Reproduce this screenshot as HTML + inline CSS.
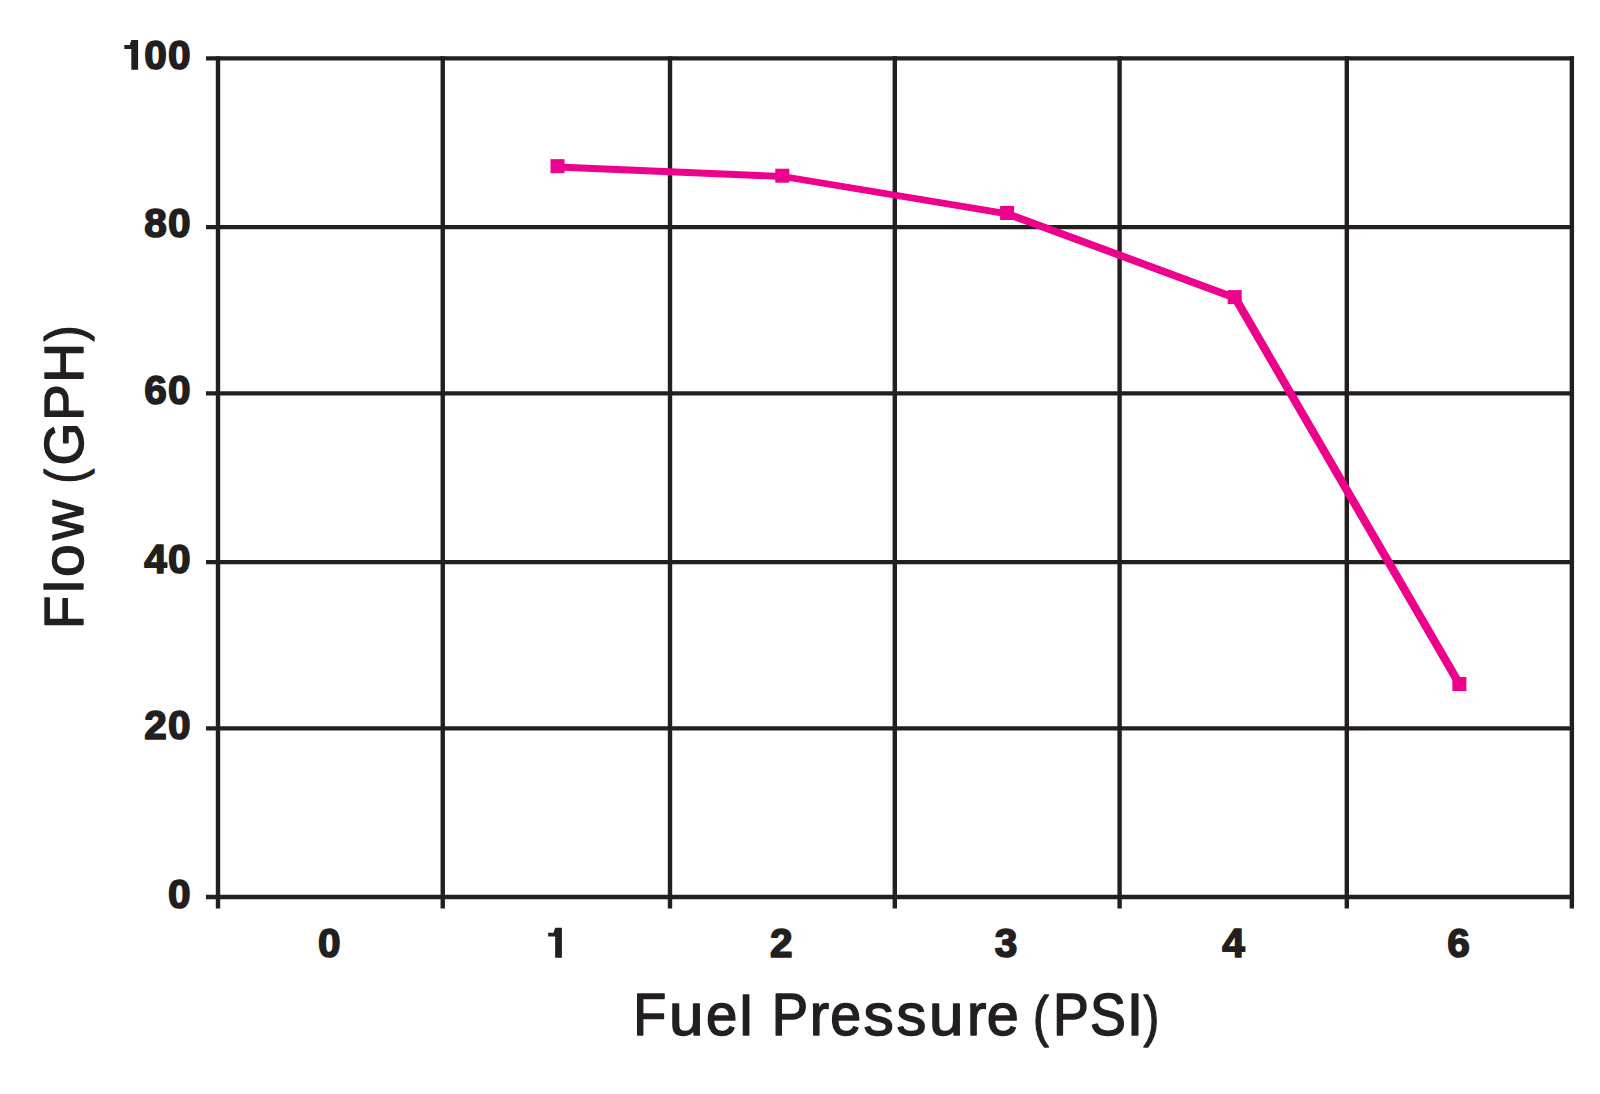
<!DOCTYPE html>
<html><head><meta charset="utf-8">
<style>
html,body{margin:0;padding:0;background:#fff;}
body{width:1600px;height:1094px;overflow:hidden;}
svg{display:block;}
svg text{font-family:"Liberation Sans",sans-serif;fill:#231f20;}
.d{font-weight:bold;font-size:40.6px;stroke:#231f20;stroke-width:1.6px;stroke-linejoin:round;letter-spacing:1.35px;}
.t{font-size:58.6px;stroke:#231f20;stroke-width:1.5px;stroke-linejoin:round;}
.yt{font-size:55.5px;stroke:#231f20;stroke-width:1.4px;stroke-linejoin:round;}
</style></head>
<body>
<svg width="1600" height="1094" viewBox="0 0 1600 1094">
<g stroke="#231f20" stroke-width="4.4" fill="none">
<line x1="206" y1="58.4" x2="1573.9" y2="58.4"/>
<line x1="206" y1="227.15" x2="1573.9" y2="227.15"/>
<line x1="206" y1="393.4" x2="1573.9" y2="393.4"/>
<line x1="206" y1="562.15" x2="1573.9" y2="562.15"/>
<line x1="206" y1="728.4" x2="1573.9" y2="728.4"/>
<line x1="206" y1="897.0" x2="1573.9" y2="897.0"/>
<line x1="218" y1="56.2" x2="218" y2="908.6"/>
<line x1="442.75" y1="56.2" x2="442.75" y2="908.6"/>
<line x1="670.0" y1="56.2" x2="670.0" y2="908.6"/>
<line x1="894.8" y1="56.2" x2="894.8" y2="908.6"/>
<line x1="1119.6" y1="56.2" x2="1119.6" y2="908.6"/>
<line x1="1346.8" y1="56.2" x2="1346.8" y2="908.6"/>
<line x1="1571.85" y1="56.2" x2="1571.85" y2="908.6"/>
</g>
<text class="d" x="192" y="69.3" text-anchor="end">00</text>
<text class="d" x="192" y="237.3" text-anchor="end">80</text>
<text class="d" x="192" y="403.8" text-anchor="end">60</text>
<text class="d" x="192" y="572.7" text-anchor="end">40</text>
<text class="d" x="192" y="738.6" text-anchor="end">20</text>
<text class="d" x="192" y="907.6" text-anchor="end">0</text>
<text class="d" x="329.9" y="956.9" text-anchor="middle">0</text>
<text class="d" x="782" y="956.9" text-anchor="middle">2</text>
<text class="d" x="1006.7" y="956.9" text-anchor="middle">3</text>
<text class="d" x="1234.1" y="956.9" text-anchor="middle">4</text>
<text class="d" x="1459.1" y="956.9" text-anchor="middle">6</text>
<path fill="#231f20" d="M131.34,40.10L138.10,40.10L138.10,69.70L131.34,69.70L131.34,49.00L124.34,49.00L124.34,45.10L129.74,45.10Z"/>
<path fill="#231f20" d="M555.15,927.65L561.91,927.65L561.91,957.80L555.15,957.80L555.15,936.55L548.15,936.55L548.15,932.65L553.55,932.65Z"/>
<text class="t" transform="translate(650.90,1034.70) scale(0.922,1.0)" x="-19.13" y="0">F</text>
<text class="t" transform="translate(686.10,1034.70) scale(1.057,1.0)" x="-16.25" y="0">u</text>
<text class="t" transform="translate(721.65,1034.70) scale(0.962,1.0)" x="-16.24" y="0">e</text>
<text class="t" transform="translate(746.15,1034.70) scale(1.007,0.95)" x="-6.52" y="0">l</text>
<text class="t" transform="translate(790.60,1034.70) scale(0.930,1.0)" x="-20.40" y="0">P</text>
<text class="t" transform="translate(820.90,1034.70) scale(0.991,1.0)" x="-11.22" y="0">r</text>
<text class="t" transform="translate(845.65,1034.70) scale(0.948,1.0)" x="-16.24" y="0">e</text>
<text class="t" transform="translate(878.45,1034.70) scale(1.031,1.0)" x="-14.41" y="0">s</text>
<text class="t" transform="translate(911.25,1034.70) scale(1.017,1.0)" x="-14.41" y="0">s</text>
<text class="t" transform="translate(946.15,1034.70) scale(1.057,1.0)" x="-16.25" y="0">u</text>
<text class="t" transform="translate(978.00,1034.70) scale(0.991,1.0)" x="-11.22" y="0">r</text>
<text class="t" transform="translate(1002.75,1034.70) scale(0.983,1.0)" x="-16.24" y="0">e</text>
<text class="t" transform="translate(1042.30,1034.70) scale(0.810,0.94)" x="-11.40" y="0">(</text>
<text class="t" transform="translate(1071.60,1034.70) scale(0.918,1.0)" x="-20.40" y="0">P</text>
<text class="t" transform="translate(1107.85,1034.70) scale(0.917,1.0)" x="-19.53" y="0">S</text>
<text class="t" transform="translate(1134.90,1034.70) scale(1.012,1.0)" x="-8.14" y="0">I</text>
<text class="t" transform="translate(1150.05,1034.70) scale(0.804,0.94)" x="-8.11" y="0">)</text>
<text class="yt" transform="translate(83.15,611.35) rotate(-90) scale(0.978,1.0)" x="-18.12" y="0">F</text>
<text class="yt" transform="translate(83.15,586.60) rotate(-90) scale(1.011,0.95)" x="-6.18" y="0">l</text>
<text class="yt" transform="translate(83.15,560.70) rotate(-90) scale(1.063,1.04)" x="-15.43" y="0">o</text>
<text class="yt" transform="translate(83.15,520.25) rotate(-90) scale(0.990,1.04)" x="-20.07" y="0">w</text>
<text class="yt" transform="translate(83.15,474.85) rotate(-90) scale(0.776,0.95)" x="-10.80" y="0">(</text>
<text class="yt" transform="translate(83.15,444.80) rotate(-90) scale(0.994,1.0)" x="-20.91" y="0">G</text>
<text class="yt" transform="translate(83.15,401.70) rotate(-90) scale(0.983,1.0)" x="-19.32" y="0">P</text>
<text class="yt" transform="translate(83.15,362.85) rotate(-90) scale(0.997,1.0)" x="-20.05" y="0">H</text>
<text class="yt" transform="translate(83.15,334.70) rotate(-90) scale(0.853,0.95)" x="-7.68" y="0">)</text>
<g stroke="#ec008c" stroke-linecap="round" fill="none">
<line x1="558.00" y1="166.95" x2="782.80" y2="176.50" stroke-width="6.9"/>
<line x1="782.80" y1="176.50" x2="1007.60" y2="213.80" stroke-width="6.8"/>
<line x1="1007.60" y1="213.80" x2="1235.20" y2="297.90" stroke-width="7.5"/>
<line x1="1235.20" y1="297.90" x2="1459.90" y2="684.85" stroke-width="8.2"/>
</g>
<g fill="#ec008c">
<rect x="550.50" y="159.15" width="14" height="14"/>
<rect x="775.30" y="168.70" width="14" height="14"/>
<rect x="1000.10" y="206.00" width="14" height="14"/>
<rect x="1227.70" y="290.10" width="14" height="14"/>
<rect x="1452.40" y="677.05" width="14" height="14"/>
</g>
</svg>
</body></html>
